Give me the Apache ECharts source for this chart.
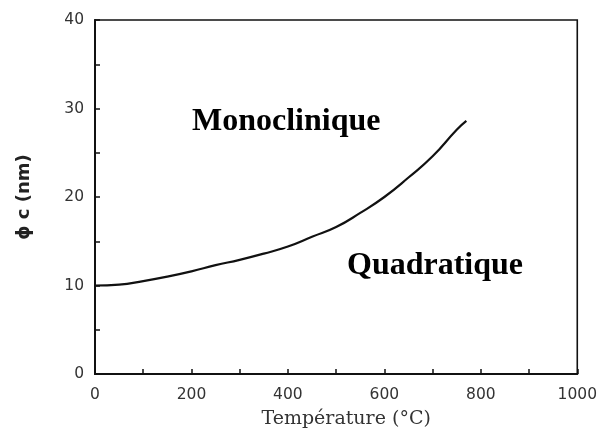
<!DOCTYPE html>
<html>
<head>
<meta charset="utf-8">
<script src="https://cdn.jsdelivr.net/npm/echarts@6/dist/echarts.min.js"></script>
<style>
html,body{margin:0;padding:0;background:#fff;}
#chart{width:600px;height:434px;}
</style>
</head>
<body>
<div id="chart"></div>
<script>
// Data
var temperatures = [0, 50, 100, 150, 200, 250, 300, 350, 400, 450, 500, 550, 600, 650, 700, 750, 770];
var diameters = [10.0, 10.1, 10.5, 11.0, 11.6, 12.3, 12.9, 13.6, 14.4, 15.5, 16.6, 18.2, 20.0, 22.2, 24.6, 27.6, 28.6];
var xTickLabels = [0, 200, 400, 600, 800, 1000];
var yTickLabels = [0, 10, 20, 30, 40];
var regionLabels = ['Monoclinique', 'Quadratique'];
var xTitle = 'Température (°C)';
var yTitle = 'ϕ c (nm)';

var points = temperatures.map(function (t, i) { return [t, diameters[i]]; });

var chart = echarts.init(document.getElementById('chart'));
chart.setOption({
  backgroundColor: '#fff',
  animation: false,
  grid: {
    left: 95, right: 22, top: 20, bottom: 60,
    show: true, borderColor: '#111', borderWidth: 1.6, backgroundColor: 'transparent'
  },
  xAxis: {
    type: 'value', min: 0, max: 1000, interval: 100,
    name: xTitle, nameLocation: 'middle', nameGap: 36,
    nameTextStyle: { fontFamily: 'DejaVu Serif', fontSize: 19, color: '#333', padding: [0, 0, 0, 20] },
    axisLine: { show: true, lineStyle: { color: '#111', width: 2 } },
    axisTick: { show: true, inside: true, length: 5, lineStyle: { color: '#111', width: 1.5 } },
    axisLabel: {
      margin: 13, fontFamily: 'DejaVu Sans', fontSize: 15.5, color: '#333',
      formatter: function (v) { return xTickLabels.indexOf(v) >= 0 ? String(v) : ''; }
    },
    splitLine: { show: false }
  },
  yAxis: {
    type: 'value', min: 0, max: 40, interval: 5,
    name: yTitle, nameLocation: 'middle', nameGap: 62,
    nameTextStyle: { fontFamily: 'DejaVu Sans', fontWeight: 'bold', fontSize: 18, color: '#222' },
    axisLine: { show: true, lineStyle: { color: '#111', width: 2 } },
    axisTick: { show: true, inside: true, length: 5, lineStyle: { color: '#111', width: 1.5 } },
    axisLabel: {
      margin: 11, fontFamily: 'DejaVu Sans', fontSize: 15.5, color: '#333',
      formatter: function (v) { return yTickLabels.indexOf(v) >= 0 ? String(v) : ''; }
    },
    splitLine: { show: false }
  },
  series: [{
    type: 'line',
    data: points,
    smooth: true,
    symbol: 'none',
    lineStyle: { color: '#111', width: 2.2 }
  }],
  graphic: [
    { type: 'text', x: 192, y: 122, style: { text: regionLabels[0], font: 'bold 32px "Liberation Serif"', fill: '#000', verticalAlign: 'middle' } },
    { type: 'text', x: 347, y: 266, style: { text: regionLabels[1], font: 'bold 32px "Liberation Serif"', fill: '#000', verticalAlign: 'middle' } }
  ]
});
</script>
</body>
</html>
